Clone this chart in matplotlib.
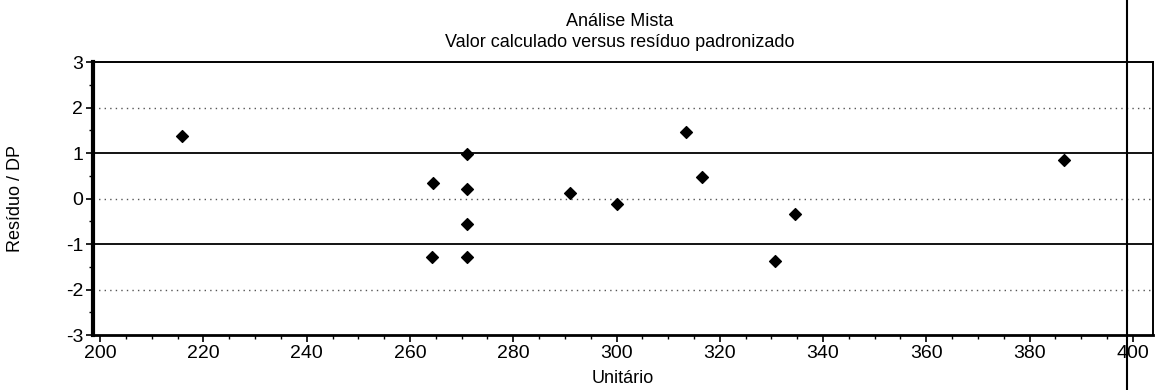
import matplotlib
matplotlib.use("Agg")
import matplotlib.pyplot as plt
from matplotlib.ticker import MultipleLocator
from matplotlib.lines import Line2D

plt.rcParams['font.family'] = ['Liberation Sans', 'DejaVu Sans']
plt.rcParams['axes.unicode_minus'] = False

# Data
unitario = [215.9, 264.5, 264.2, 271.0, 271.0, 271.0, 271.0, 291.0, 300.1, 313.5, 316.6, 330.7, 334.6, 386.6]
residuo = [1.37, 0.35, -1.29, 0.98, 0.20, -0.55, -1.29, 0.12, -0.13, 1.46, 0.47, -1.37, -0.33, 0.85]
x_ticks = [200, 220, 240, 260, 280, 300, 320, 340, 360, 380, 400]
y_ticks = [-3, -2, -1, 0, 1, 2, 3]
solid_refs = [1, -1]
dotted_refs = [2, 0, -2]

fig = plt.figure(figsize=(11.59, 3.90), dpi=100)
ax = fig.add_axes([0.0802, 0.141, 0.9146, 0.700])

for r in dotted_refs:
    ax.axhline(r, color='#555555', lw=1.0, ls=(0, (1, 3)), zorder=1)
for r in solid_refs:
    ax.axhline(r, color='black', lw=1.3, zorder=2)

ax.scatter(unitario, residuo, marker='D', s=36, color='black', zorder=3)

ax.set_xlim(198.6, 403.9)
ax.set_ylim(-3, 3)
ax.set_xticks(x_ticks)
ax.set_yticks(y_ticks)
ax.xaxis.set_minor_locator(MultipleLocator(5))
ax.yaxis.set_minor_locator(MultipleLocator(0.5))
ax.tick_params(axis='both', which='major', length=5, width=1.2, labelsize=14, direction='out', pad=2)
ax.tick_params(axis='both', which='minor', length=3, width=1.0)

for s in ['top', 'right']:
    ax.spines[s].set_linewidth(1.4)
ax.spines['left'].set_linewidth(3.0)
ax.spines['bottom'].set_linewidth(2.0)

ax.set_xlabel('Unitário', fontsize=13, labelpad=6)
ax.set_ylabel('Resíduo / DP', fontsize=13, labelpad=30)

fig.text(0.535, 0.945, 'Análise Mista', ha='center', va='center', fontsize=13)
fig.text(0.535, 0.89, 'Valor calculado versus resíduo padronizado', ha='center', va='center', fontsize=13)

# vertical scan border line across the page
fig.add_artist(Line2D([1127/1159, 1127/1159], [0, 1], color='black', lw=1.5, transform=fig.transFigure))

fig.savefig('out.png', dpi=100)
